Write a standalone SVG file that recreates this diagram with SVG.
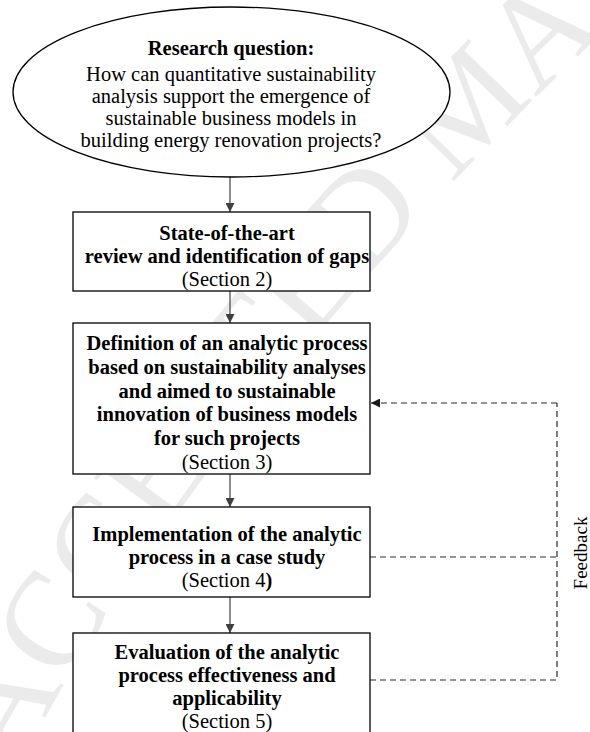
<svg xmlns="http://www.w3.org/2000/svg" width="590" height="732" viewBox="0 0 590 732">
  <style>
    .bg { fill: #ffffff; }
    .wm { font-family: "Liberation Serif", "Times New Roman", serif; font-size: 135px; fill: #ebebeb; }
    .node { fill: #ffffff; stroke: #000000; stroke-width: 1.3; }
    .t { font-family: "Liberation Serif", "Times New Roman", serif; font-size: 20.5px; fill: #000000; text-anchor: middle; }
    .b { font-weight: bold; }
    .flow { stroke: #404040; stroke-width: 1.2; fill: none; }
    .fb { stroke: #2a2a2a; stroke-width: 1.2; fill: none; stroke-dasharray: 6 4; }
  </style>
  <defs>
    <marker id="head" viewBox="0 0 10 10" refX="10" refY="5" markerWidth="9" markerHeight="9" markerUnits="userSpaceOnUse" orient="auto">
      <path d="M0,0 L10,5 L0,10 Z" fill="#404040"/>
    </marker>
    <marker id="headDark" viewBox="0 0 10 10" refX="10" refY="5" markerWidth="9" markerHeight="9" markerUnits="userSpaceOnUse" orient="auto">
      <path d="M0,0 L10,5 L0,10 Z" fill="#1a1a1a"/>
    </marker>
    <path id="wmPath" d="M 0,800 Q 215,385 680,-40"/>
  </defs>

  <rect class="bg" x="0" y="0" width="590" height="732"/>

  <!-- faint background stamp -->
  <text class="wm"><textPath href="#wmPath" startOffset="35">ACCEPTED MANUSCRIPT</textPath></text>

  <!-- connectors -->
  <g id="connectors">
    <line class="flow" x1="230" y1="177" x2="230" y2="212" marker-end="url(#head)"/>
    <line class="flow" x1="230" y1="291" x2="230" y2="323" marker-end="url(#head)"/>
    <line class="flow" x1="230" y1="474" x2="230" y2="507" marker-end="url(#head)"/>
    <line class="flow" x1="230" y1="597" x2="230" y2="633" marker-end="url(#head)"/>
    <path class="fb" d="M370,557 H557"/>
    <path class="fb" d="M370,680 H557 V403"/>
    <path class="fb" d="M557,403 H371" marker-end="url(#headDark)"/>
    <text class="t" transform="translate(587,553) rotate(-90)" style="font-size:19px">Feedback</text>
  </g>

  <g id="question">
    <ellipse class="node" cx="231.5" cy="92" rx="218.5" ry="85"/>
    <text class="t b" x="231" y="55">Research question:</text>
    <text class="t" x="231" y="81">How can quantitative sustainability</text>
    <text class="t" x="231" y="103">analysis support the emergence of</text>
    <text class="t" x="231" y="125">sustainable business models in</text>
    <text class="t" x="231" y="147">building energy renovation projects?</text>
  </g>

  <g id="review">
    <rect class="node" x="73" y="212" width="297" height="79"/>
    <text class="t b" x="227" y="240">State-of-the-art</text>
    <text class="t b" x="227" y="263">review and identification of gaps</text>
    <text class="t" x="227" y="286">(Section 2)</text>
  </g>

  <g id="definition">
    <rect class="node" x="73" y="323" width="297" height="151"/>
    <text class="t b" x="227" y="350">Definition of an analytic process</text>
    <text class="t b" x="227" y="374">based on sustainability analyses</text>
    <text class="t b" x="227" y="398">and aimed to sustainable</text>
    <text class="t b" x="227" y="421">innovation of business models</text>
    <text class="t b" x="227" y="445">for such projects</text>
    <text class="t" x="227" y="469">(Section 3)</text>
  </g>

  <g id="implementation">
    <rect class="node" x="73" y="507" width="297" height="90"/>
    <text class="t b" x="227" y="541">Implementation of the analytic</text>
    <text class="t b" x="227" y="564">process in a case study</text>
    <text class="t" x="227" y="587">(Section 4<tspan class="b">)</tspan></text>
  </g>

  <g id="evaluation">
    <rect class="node" x="73" y="633" width="297" height="110"/>
    <text class="t b" x="227" y="659">Evaluation of the analytic</text>
    <text class="t b" x="227" y="682">process effectiveness and</text>
    <text class="t b" x="227" y="705">applicability</text>
    <text class="t" x="227" y="728">(Section 5)</text>
  </g>
</svg>
